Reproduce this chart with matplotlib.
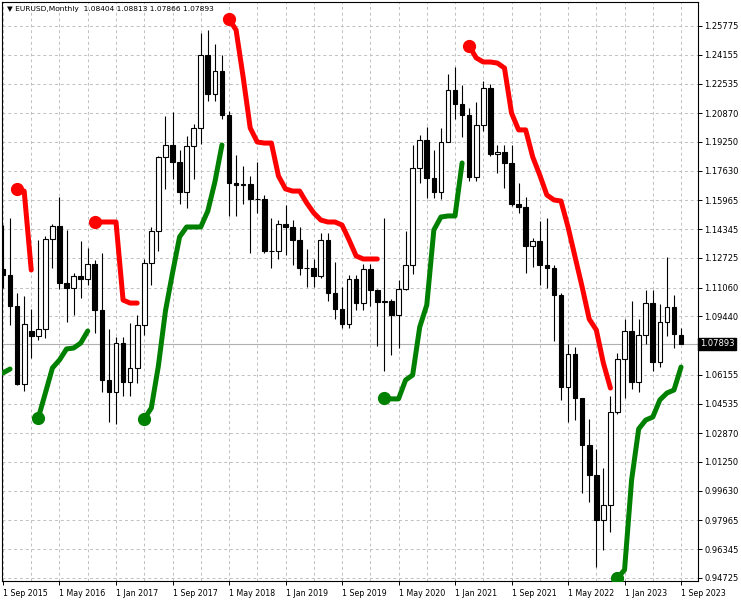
import numpy as np
import matplotlib
matplotlib.use('Agg')
import matplotlib.pyplot as plt

nan = np.nan

# monthly bars, Sep 2015 .. Sep 2023
opens = [
	1.1212, 1.1177, 1.1003, 1.0565, 1.0862, 1.0831, 1.0872, 1.1378, 1.1453, 1.1131, 1.1105, 1.1174, 1.1157,
	1.1241, 1.0981, 1.0588, 1.0520, 1.0796, 1.0575, 1.0651, 1.0895, 1.1243, 1.1426, 1.1838, 1.1907,
	1.1813, 1.1646, 1.1904, 1.2005, 1.2413, 1.2194, 1.2324, 1.2078, 1.1693, 1.1683, 1.1690, 1.1603,
	1.1605, 1.1312, 1.1314, 1.1466, 1.1448, 1.1371, 1.1217, 1.1214, 1.1169, 1.1372, 1.1076, 1.0987,
	1.0899, 1.1152, 1.1017, 1.1213, 1.1093, 1.1027, 1.1030, 1.0954, 1.1098, 1.1234, 1.1778, 1.1936,
	1.1721, 1.1646, 1.1927, 1.2216, 1.2136, 1.2075, 1.1729, 1.2019, 1.2227, 1.1858, 1.1870, 1.1807,
	1.1578, 1.1558, 1.1338, 1.1370, 1.1234, 1.1218, 1.1067, 1.0545, 1.0733, 1.0484, 1.0220, 1.0053,
	0.9801, 0.9883, 1.0405, 1.0704, 1.0863, 1.0576, 1.0840, 1.1019, 1.0689, 1.0910, 1.0998, 1.08404,
]
highs = [
	1.1460, 1.1495, 1.1077, 1.1059, 1.0985, 1.1376, 1.1396, 1.1465, 1.1616, 1.1428, 1.1186, 1.1366, 1.1328,
	1.1259, 1.1300, 1.0874, 1.0829, 1.0829, 1.0906, 1.0951, 1.1268, 1.1446, 1.1846, 1.2070, 1.2092,
	1.1880, 1.1961, 1.2025, 1.2537, 1.2556, 1.2476, 1.2414, 1.2097, 1.1852, 1.1791, 1.1734, 1.1815,
	1.1625, 1.1500, 1.1486, 1.1570, 1.1489, 1.1448, 1.1324, 1.1265, 1.1412, 1.1412, 1.1250, 1.1110,
	1.1179, 1.1175, 1.1239, 1.1239, 1.1096, 1.1495, 1.1040, 1.1150, 1.1422, 1.1908, 1.1966, 1.2011,
	1.1881, 1.2004, 1.2310, 1.2349, 1.2243, 1.2114, 1.2150, 1.2266, 1.2254, 1.1909, 1.1908, 1.1909,
	1.1692, 1.1616, 1.1386, 1.1482, 1.1495, 1.1233, 1.1076, 1.0787, 1.0773, 1.0486, 1.0369, 1.0198,
	1.0094, 1.0497, 1.0736, 1.0929, 1.1033, 1.0930, 1.1095, 1.1092, 1.1012, 1.1276, 1.1065, 1.08813,
]
lows = [
	1.1105, 1.0896, 1.0557, 1.0523, 1.0711, 1.0810, 1.0822, 1.1217, 1.1098, 1.0912, 1.0952, 1.1045, 1.1122,
	1.0851, 1.0517, 1.0352, 1.0340, 1.0494, 1.0495, 1.0570, 1.0839, 1.1119, 1.1312, 1.1662, 1.1717,
	1.1575, 1.1554, 1.1717, 1.1916, 1.2154, 1.2155, 1.2055, 1.1510, 1.1508, 1.1575, 1.1301, 1.1526,
	1.1302, 1.1216, 1.1269, 1.1289, 1.1234, 1.1176, 1.1110, 1.1107, 1.1160, 1.1028, 1.0927, 1.0879,
	1.0879, 1.0981, 1.0981, 1.1003, 1.0778, 1.0636, 1.0727, 1.0766, 1.1095, 1.1185, 1.1696, 1.1612,
	1.1612, 1.1603, 1.1924, 1.2054, 1.1952, 1.1704, 1.1704, 1.1986, 1.1847, 1.1752, 1.1664, 1.1563,
	1.1524, 1.1186, 1.1222, 1.1121, 1.1106, 1.0806, 1.0471, 1.0349, 1.0359, 0.9952, 0.9900, 0.9536,
	0.9632, 0.9730, 1.0393, 1.0483, 1.0533, 1.0516, 1.0788, 1.0635, 1.0662, 1.0834, 1.0766, 1.07866,
]
closes = [
	1.1177, 1.1003, 1.0565, 1.0900, 1.0831, 1.0872, 1.1378, 1.1453, 1.1131, 1.1105, 1.1174, 1.1157, 1.1241,
	1.0981, 1.0588, 1.0520, 1.0796, 1.0575, 1.0651, 1.0895, 1.1243, 1.1426, 1.1838, 1.1907, 1.1813,
	1.1646, 1.1904, 1.2005, 1.2413, 1.2194, 1.2324, 1.2078, 1.1693, 1.1683, 1.1690, 1.1603, 1.1605,
	1.1312, 1.1314, 1.1466, 1.1448, 1.1371, 1.1217, 1.1214, 1.1169, 1.1372, 1.1076, 1.0987, 1.0899,
	1.1152, 1.1017, 1.1213, 1.1093, 1.1027, 1.1030, 1.0954, 1.1098, 1.1234, 1.1778, 1.1936, 1.1721,
	1.1646, 1.1927, 1.2216, 1.2136, 1.2075, 1.1729, 1.2019, 1.2227, 1.1858, 1.1870, 1.1807, 1.1578,
	1.1558, 1.1338, 1.1370, 1.1234, 1.1218, 1.1067, 1.0545, 1.0733, 1.0484, 1.0220, 1.0053, 0.9801,
	0.9883, 1.0405, 1.0704, 1.0863, 1.0576, 1.0840, 1.1019, 1.0689, 1.0910, 1.0998, 1.0843, 1.07893,
]

# trailing stop lines (nan = not shown)
stop_down = [
	nan, nan, 1.1661, 1.1649, 1.1205, nan, nan, nan, nan, nan, nan, nan, nan,
	1.1475, 1.1475, 1.1475, 1.1475, 1.1036, 1.1019, 1.1019, nan, nan, nan, nan, nan,
	nan, nan, nan, nan, nan, nan, nan, 1.2617, 1.2555, 1.2291, 1.2004, 1.1925,
	1.1919, 1.1919, 1.1734, 1.1661, 1.1649, 1.1649, 1.1582, 1.1526, 1.1486, 1.1475, 1.1475, 1.1458,
	1.1374, 1.1284, 1.1267, 1.1267, 1.1267, nan, nan, nan, nan, nan, nan, nan,
	nan, nan, nan, nan, nan, 1.2465, 1.2398, 1.2375, 1.2375, 1.2369, 1.2341, 1.2088,
	1.1993, 1.1993, 1.1841, 1.1739, 1.1627, 1.1599, 1.1593, 1.1447, 1.1278, 1.1109, 1.0929, 1.0868,
	1.0682, 1.0541, nan, nan, nan, nan, nan, nan, nan, nan, nan, nan,
]
stop_up = [
	1.0626, 1.0648, nan, nan, nan, 1.0373, 1.0513, 1.0654, 1.0699, 1.0761, 1.0766, 1.0794, 1.0862,
	nan, nan, nan, nan, nan, nan, nan, 1.0367, 1.0429, 1.0665, 1.0974, 1.1188,
	1.1391, 1.1447, 1.1447, 1.1447, 1.1537, 1.1700, 1.1908, nan, nan, nan, nan, nan,
	nan, nan, nan, nan, nan, nan, nan, nan, nan, nan, nan, nan,
	nan, nan, nan, nan, nan, 1.0485, 1.0480, 1.0480, 1.0586, 1.0614, 1.0884, 1.1008,
	1.1430, 1.1503, 1.1509, 1.1509, 1.1807, nan, nan, nan, nan, nan, nan, nan,
	nan, nan, nan, nan, nan, nan, nan, nan, nan, nan, nan, nan,
	nan, nan, 0.94725, 0.9518, 1.0024, 1.0311, 1.0361, 1.0378, 1.0474, 1.0513, 1.0530, 1.0659,
]

date_labels = ['1 Sep 2015', '1 May 2016', '1 Jan 2017', '1 Sep 2017', '1 May 2018', '1 Jan 2019',
	'1 Sep 2019', '1 May 2020', '1 Jan 2021', '1 Sep 2021', '1 May 2022', '1 Jan 2023', '1 Sep 2023']
price_ticks = [1.25775, 1.24155, 1.22535, 1.20870, 1.19250, 1.17630, 1.15965, 1.14345, 1.12725,
	1.11060, 1.09440, 1.06155, 1.04535, 1.02870, 1.01250, 0.99630, 0.97965, 0.96345, 0.94725]
last_price = 1.07893

o = np.array(opens)
h = np.array(highs)
l = np.array(lows)
c = np.array(closes)
x = np.arange(len(o))

fig = plt.figure(figsize=(7.41, 6.0), dpi=100)
ax = fig.add_axes([2/741, 1 - 581/600, 696/741, 579/600])

grid_kw = dict(color='#c0c0c0', linestyle=(0, (3, 3)), linewidth=0.7, zorder=0)
for i in range(0, 100, 4):
	ax.axvline(i, **grid_kw)
for p in price_ticks:
	ax.axhline(p, **grid_kw)
ax.axhline(last_price, color='#b0b0b0', linewidth=0.8, zorder=1)

ax.vlines(x, l, h, color='black', linewidth=0.8, zorder=2)
up = c >= o
ax.bar(x, np.abs(c - o), bottom=np.minimum(o, c), width=0.66,
	color=np.where(up, 'white', 'black'), edgecolor='black', linewidth=0.8, zorder=3)

for vals, col in ((stop_down, 'red'), (stop_up, 'green')):
	v = np.array(vals)
	ax.plot(x, v, color=col, linewidth=3.6, solid_capstyle='round',
		solid_joinstyle='round', zorder=4)
	starts = [i for i in range(1, len(v)) if not np.isnan(v[i]) and np.isnan(v[i - 1])]
	ax.plot(x[starts], v[starts], 'o', color=col, markersize=8.5, zorder=5)

ax.set_xlim(-0.14, 98.4)
ax.set_ylim(0.94556, 1.27125)

ax.yaxis.tick_right()
ax.set_yticks(price_ticks)
ax.set_yticklabels(['%.5f' % p for p in price_ticks])
ax.set_xticks(range(0, 97, 8))
ax.set_xticklabels(date_labels)
plt.setp(ax.get_xticklabels(), ha='left')
ax.tick_params(axis='both', length=3, width=0.7, labelsize=6, pad=1.5, colors='black')
ax.tick_params(axis='x', pad=3, labelsize=5.7)
for s in ax.spines.values():
	s.set_linewidth(0.8)
	s.set_color('black')

ax.text(1.003, last_price, '%.5f' % last_price, transform=ax.get_yaxis_transform(),
	color='white', fontsize=6, va='center', ha='left',
	bbox=dict(facecolor='black', edgecolor='black', pad=1.2))

fig.text(7/741, 1 - 9/600, '\u25bc EURUSD,Monthly  1.08404 1.08813 1.07866 1.07893',
	fontsize=5.4, va='center', ha='left')

fig.savefig('out.png', dpi=100)
